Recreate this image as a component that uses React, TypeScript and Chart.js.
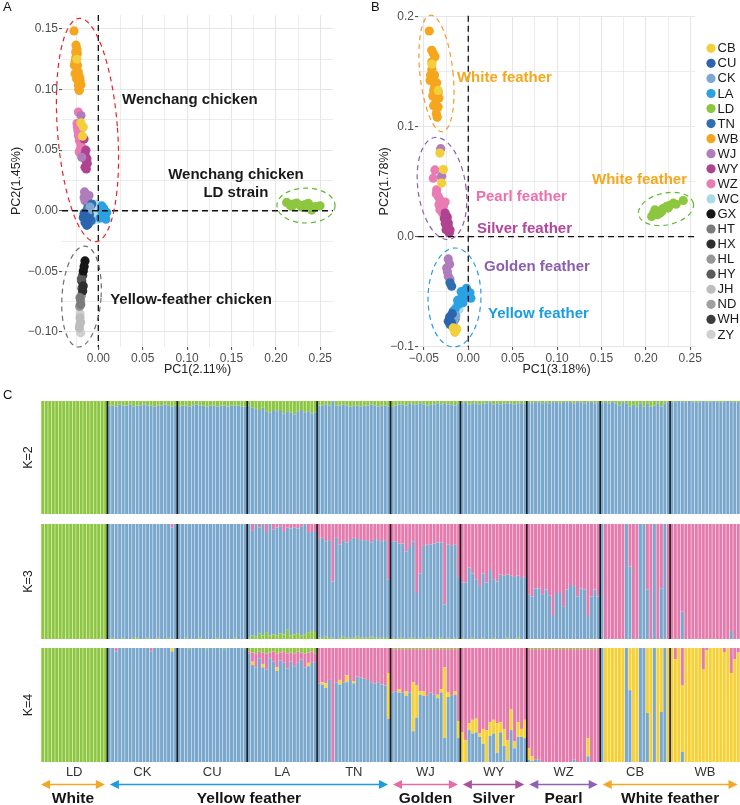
import React, { useEffect, useRef } from 'react';
import { Chart, registerables } from 'chart.js';
Chart.register(...registerables);

const FONT = "'Liberation Sans', Arial, Helvetica, sans-serif";

// ---------------- PCA groups (legend order) ----------------
const pcaGroups = ['CB','CU','CK','LA','LD','TN','WB','WJ','WY','WZ','WC','GX','HT','HX','HL','HY','JH','ND','WH','ZY'];
const pcaColors = ['#f3cf3b','#2c64ae','#7ea7d1','#2aa1e2','#8dc63f','#2f6fb0','#f5a61d','#b07cbc','#b0438f','#e97cb3','#a9dce6','#151515','#7a7a7a','#2e2e2e','#969696','#5a5a5a','#bdbdbd','#a0a0a0','#3d3d3d','#d0d0d0'];

// ---------------- Panel A points [PC1, PC2] ----------------
const pcaA_CB = [[-0.0169,0.069],[-0.0195,0.0725],[-0.0178,0.0615],[-0.0242,0.125]];
const pcaA_CU = [[-0.015,-0.0097],[-0.0169,-0.0055],[-0.013,-0.012],[-0.016,-0.002],[-0.011,-0.006]];
const pcaA_CK = [[-0.012,-0.001],[-0.0095,0.003],[-0.014,-0.004]];
const pcaA_LA = [[0.0075,-0.0041],[0.0038,0],[0.0094,-0.0014],[0.006,0.002],[0.002,-0.006],[0.0085,-0.007],[0.004,0.004]];
const pcaA_LD = [[0.2121,0.0069],[0.2196,0.0055],[0.2234,0.0063],[0.2328,0.005],[0.2403,0.0006],[0.2497,0.0041],[0.2159,0.0048],[0.2271,0.0045],[0.2365,0.0062],[0.244,0.0035],[0.229,0.003],[0.218,0.0035],[0.235,0.0025]];
const pcaA_TN = [[-0.0113,-0.011],[-0.0074,0.0055],[-0.01,-0.003],[-0.012,0.002],[-0.008,-0.008]];
const pcaA_WB = [[-0.0274,0.1484],[-0.0251,0.1366],[-0.0236,0.1297],[-0.0262,0.1228],[-0.0244,0.118],[-0.0225,0.1145],[-0.0206,0.1076],[-0.0225,0.1035],[-0.0214,0.0993],[-0.0255,0.126],[-0.027,0.12],[-0.023,0.112],[-0.0195,0.104],[-0.024,0.133],[-0.0262,0.113],[-0.022,0.1],[-0.0245,0.109],[-0.0255,0.131],[-0.021,0.11],[-0.0235,0.12]];
const pcaA_WJ = [[-0.0195,0.0786],[-0.0187,0.0441],[-0.0139,0.0138],[-0.015,0.0083],[-0.0124,0.0096],[-0.016,0.011],[-0.0105,0.0125],[-0.0155,0.0155],[-0.012,0.006]];
const pcaA_WY = [[-0.015,0.0469],[-0.0139,0.0414],[-0.015,0.0359],[-0.0124,0.039],[-0.0165,0.044],[-0.0135,0.0345],[-0.0161,0.0593],[-0.014,0.05],[-0.0128,0.043]];
const pcaA_WZ = [[-0.0225,0.0814],[-0.0236,0.069],[-0.0206,0.0655],[-0.0214,0.058],[-0.0187,0.0524],[-0.0225,0.062],[-0.0198,0.055],[-0.024,0.072],[-0.0215,0.0485],[-0.019,0.06],[-0.023,0.066],[-0.0205,0.0505]];
const pcaA_WC = [[-0.0074,-0.0027],[-0.0018,-0.0027],[-0.0024,0.0055],[-0.005,0.002],[-0.003,-0.007],[-0.008,0.003],[0,0.001],[-0.006,-0.008],[-0.01,0.0]];
const pcaA_GX = [[-0.015,-0.0414],[-0.0169,-0.0497],[-0.016,-0.046]];
const pcaA_HT = [[-0.0206,-0.0717],[-0.0198,-0.0773]];
const pcaA_HX = [[-0.0176,-0.0662],[-0.017,-0.062]];
const pcaA_HL = [[-0.02,-0.074],[-0.021,-0.079]];
const pcaA_HY = [[-0.0185,-0.064],[-0.019,-0.056]];
const pcaA_JH = [[-0.0206,-0.0883],[-0.0214,-0.0966],[-0.02,-0.092]];
const pcaA_ND = [[-0.019,-0.07]];
const pcaA_WH = [[-0.0187,-0.058],[-0.0176,-0.0535]];
const pcaA_ZY = [[-0.0198,-0.1007],[-0.021,-0.094],[-0.0205,-0.085]];
const pcaA = [pcaA_CB,pcaA_CU,pcaA_CK,pcaA_LA,pcaA_LD,pcaA_TN,pcaA_WB,pcaA_WJ,pcaA_WY,pcaA_WZ,pcaA_WC,pcaA_GX,pcaA_HT,pcaA_HX,pcaA_HL,pcaA_HY,pcaA_JH,pcaA_ND,pcaA_WH,pcaA_ZY];

// ---------------- Panel B points [PC1, PC2] ----------------
const pcaB_CB = [[-0.041,0.157],[-0.0338,0.133],[-0.032,0.076],[-0.028,0.061],[-0.03,0.0487],[-0.0169,-0.083],[-0.015,-0.087],[-0.013,-0.084]];
const pcaB_CU = [[-0.0225,-0.0768],[-0.021,-0.073],[-0.019,-0.078],[-0.018,-0.07]];
const pcaB_CK = [[-0.0169,-0.0798],[-0.014,-0.072],[-0.016,-0.076]];
const pcaB_LA = [[-0.0056,-0.0496],[0,-0.054],[-0.0093,-0.057],[-0.0113,-0.0617],[-0.015,-0.066],[0.0019,-0.051],[-0.004,-0.053],[-0.008,-0.05],[-0.012,-0.058],[-0.006,-0.06],[0.003,-0.056],[-0.002,-0.047]];
const pcaB_LD = [[0.2065,0.0184],[0.2159,0.0215],[0.2234,0.0275],[0.2309,0.0305],[0.2421,0.0329],[0.2103,0.0245],[0.219,0.0255],[0.213,0.02],[0.227,0.0285],[0.218,0.023],[0.225,0.026],[0.2085,0.021],[0.234,0.0295]];
const pcaB_TN = [[-0.0206,-0.042],[-0.0187,-0.045],[-0.0187,-0.072],[-0.0206,-0.0798],[-0.015,-0.075],[-0.017,-0.068]];
const pcaB_WB = [[-0.0439,0.187],[-0.0412,0.1695],[-0.0394,0.1665],[-0.0375,0.1635],[-0.041,0.159],[-0.0424,0.147],[-0.038,0.147],[-0.043,0.142],[-0.0356,0.14],[-0.039,0.133],[-0.0338,0.131],[-0.04,0.128],[-0.033,0.126],[-0.037,0.121],[-0.034,0.118],[-0.039,0.119],[-0.036,0.112],[-0.035,0.1085],[-0.038,0.136],[-0.041,0.152]];
const pcaB_WJ = [[-0.031,0.08],[-0.03,0.055],[-0.0225,-0.0202],[-0.0243,-0.0284],[-0.0225,-0.036],[-0.0206,-0.039],[-0.0235,-0.032],[-0.021,-0.025]];
const pcaB_WY = [[-0.026,0.0215],[-0.0243,0.0154],[-0.0225,0.0093],[-0.025,0.0063],[-0.0214,0.0033],[-0.0236,0.018],[-0.026,0.012],[-0.0205,0.006],[-0.027,0.0165],[-0.0225,0.0125]];
const pcaB_WZ = [[-0.0375,0.0607],[-0.0394,0.0532],[-0.0356,0.0426],[-0.0338,0.0365],[-0.0319,0.0335],[-0.03,0.0305],[-0.028,0.0275],[-0.0319,0.0245],[-0.026,0.0315],[-0.029,0.0215],[-0.036,0.039],[-0.033,0.029]];
const pcaB_WC = [[-0.013,-0.063],[-0.0105,-0.066]];
const pcaB = [pcaB_CB,pcaB_CU,pcaB_CK,pcaB_LA,pcaB_LD,pcaB_TN,pcaB_WB,pcaB_WJ,pcaB_WY,pcaB_WZ,pcaB_WC,[],[],[],[],[],[],[],[],[]];

// axis ticks
const aXTicks = [-0.025,0,0.025,0.05,0.075,0.1,0.125,0.15,0.175,0.2,0.225,0.25];
const aYTicks = [-0.1,-0.075,-0.05,-0.025,0,0.025,0.05,0.075,0.1,0.125,0.15];
const bXTicks = [-0.05,-0.025,0,0.025,0.05,0.075,0.1,0.125,0.15,0.175,0.2,0.225,0.25];
const bYTicks = [-0.1,-0.05,0,0.05,0.1,0.15,0.2];

// ---------------- Admixture ----------------
const admixGroups = ['LD','CK','CU','LA','TN','WJ','WY','WZ','CB','WB'];
const admixSizes = [19,20,20,20,21,20,19,21,20,20];
const featherLabels = ['White','Yellow feather','Golden','Silver','Pearl','White feather'];
const featherFrom = ['LD','CK','WJ','WY','WZ','CB'];
const featherTo = ['LD','TN','WJ','WY','WZ','WB'];
const featherColors = ['#f5a623','#1f9be1','#e76ba7','#a8529e','#8e63b4','#f5a623'];

// K=2 : green share (blue = rest)
const k2Green = [
  1,1,1,1,1,1,1,1,1,1,1,1,1,1,1,1,1,1,1,
  0.04,0.04,0.05,0.03,0.04,0.04,0.03,0.05,0.04,0.04,0.03,0.04,0.04,0.05,0.04,0.04,0.03,0.04,0.05,0.04,
  0.05,0.04,0.04,0.05,0.04,0.03,0.04,0.04,0.05,0.04,0.04,0.05,0.04,0.04,0.05,0.04,0.04,0.04,0.05,0.05,
  0.04,0.06,0.07,0.08,0.06,0.09,0.10,0.08,0.09,0.08,0.11,0.09,0.10,0.12,0.09,0.08,0.10,0.09,0.11,0.10,
  0.04,0.04,0.03,0.04,0.00,0.04,0.04,0.03,0.04,0.05,0.04,0.04,0.05,0.04,0.04,0.03,0.04,0.05,0.04,0.04,0.05,
  0.05,0.04,0.03,0.03,0.04,0.02,0.03,0.03,0.02,0.03,0.04,0.03,0.03,0.02,0.03,0.02,0.03,0.03,0.04,0.02,
  0.02,0.01,0.03,0.02,0.02,0.03,0.02,0.02,0.01,0.03,0.02,0.03,0.02,0.02,0.02,0.03,0.02,0.02,0.02,
  0.01,0.02,0.01,0.01,0.02,0.01,0.02,0.01,0.01,0.02,0.01,0.01,0.01,0.02,0.01,0.01,0.02,0.01,0.01,0.02,0.01,
  0.02,0.01,0.02,0.01,0.02,0.04,0.01,0.02,0.05,0.03,0.05,0.02,0.05,0.02,0.05,0.04,0.02,0.05,0.02,0.01,
  0.01,0.01,0.00,0.01,0.01,0.00,0.01,0.01,0.01,0.00,0.01,0.01,0.00,0.01,0.01,0.01,0.00,0.01,0.01,0.01,
];
// K=3 : green (bottom), pink (top); blue = rest
const k3Green = [
  1,1,1,1,1,1,1,1,1,1,1,1,1,1,1,1,1,1,1,
  0,0.01,0,0,0.01,0,0,0.01,0.01,0,0,0.01,0,0,0.01,0,0,0.01,0,0,
  0,0,0.01,0,0,0,0.01,0,0,0,0,0.01,0,0,0,0,0.01,0,0,0,
  0.01,0.03,0.02,0.05,0.03,0.06,0.03,0.04,0.03,0.05,0.04,0.08,0.03,0.04,0.05,0.03,0.04,0.06,0.07,0.06,
  0.01,0.01,0.02,0.01,0.01,0,0.01,0.02,0.01,0.01,0.01,0.02,0.01,0.01,0.01,0.02,0.01,0.01,0.01,0.01,0.01,
  0.01,0,0.01,0.01,0,0.01,0.01,0,0.01,0,0.01,0.01,0,0.01,0.01,0,0.01,0,0.01,0,
  0.01,0,0,0.01,0,0,0.01,0,0,0.01,0,0,0,0.01,0,0,0.01,0,0,
  0,0,0,0,0,0,0,0,0,0,0,0,0,0,0,0,0,0,0,0,0,
  0,0,0,0,0,0,0,0,0,0,0,0,0,0,0,0,0,0,0,0,
  0,0,0,0,0,0,0,0,0,0,0,0,0,0,0,0,0,0,0,0,
];
const k3Pink = [
  0,0,0,0,0,0,0,0,0,0,0,0,0,0,0,0,0,0,0,
  0,0,0,0,0,0,0,0,0,0,0,0,0,0,0,0,0,0,0.03,0,
  0,0,0,0,0,0,0,0,0,0,0,0,0,0,0,0,0,0,0,0,
  0,0.06,0,0.03,0,0.07,0,0.05,0.03,0.02,0.07,0.03,0.04,0.03,0.04,0.02,0,0.07,0.07,0.06,
  0.13,0.12,0.15,0.14,0.50,0.12,0.18,0.14,0.16,0.14,0.12,0.13,0.14,0.14,0.14,0.16,0.13,0.14,0.15,0.14,0.48,
  0.15,0.15,0.17,0.17,0.24,0.20,0.15,0.60,0.43,0.19,0.18,0.18,0.17,0.16,0.16,0.70,0.18,0.19,0.18,0.46,
  0.51,0.51,0.38,0.43,0.48,0.54,0.43,0.51,0.40,0.48,0.50,0.44,0.45,0.44,0.45,0.46,0.45,0.47,0.46,
  0.61,0.63,0.56,0.56,0.61,0.57,0.62,0.80,0.60,0.60,0.72,0.57,0.53,0.54,0.63,0.56,0.57,0.80,0.63,0.57,0.63,
  0,1,1,1,1,1,1,0,0.37,1,1,0,0,0.57,1,0,1,0.56,0,1,
  1,1,1,0.76,1,1,1,1,1,1,1,1,1,1,1,1,1,0.93,1,1,
];
// K=4 : blue (bottom, rest), yellow, pink, green (top)
const k4Green = [
  1,1,1,1,1,1,1,1,1,1,1,1,1,1,1,1,1,1,1,
  0,0,0,0,0,0,0,0,0,0,0,0,0,0,0,0,0,0,0,0,
  0,0,0,0.01,0,0,0,0,0.01,0,0,0,0,0.01,0,0,0,0,0,0.01,
  0.03,0.04,0.05,0.03,0.04,0.05,0.04,0.03,0.05,0.04,0.03,0.05,0.04,0.05,0.03,0.04,0.05,0.04,0.03,0.05,
  0,0,0,0,0,0,0,0,0,0,0,0,0,0,0,0,0,0,0,0,0,
  0.01,0.01,0.01,0.01,0.01,0.01,0.01,0.01,0.01,0.01,0.01,0.01,0.01,0.01,0.01,0.01,0.01,0.01,0.01,0.01,
  0,0,0,0,0,0,0,0,0,0,0,0,0,0,0,0,0,0,0,
  0.01,0.01,0.01,0.01,0.01,0.01,0.01,0.01,0.01,0.01,0.01,0.01,0.01,0.01,0.01,0.01,0.01,0.01,0.01,0.01,0.01,
  0,0,0,0,0,0,0,0,0,0,0,0,0,0,0,0,0,0,0,0,
  0,0,0,0,0,0,0,0,0,0,0,0,0,0,0,0,0,0,0,0,
];
const k4Pink = [
  0,0,0,0,0,0,0,0,0,0,0,0,0,0,0,0,0,0,0,
  0,0,0.03,0,0,0,0,0,0,0,0,0,0.03,0,0,0,0,0,0,0,
  0,0,0,0,0,0,0,0,0,0,0,0,0,0,0,0,0,0,0,0,
  0.02,0.08,0.12,0.06,0.10,0.14,0.05,0.09,0.12,0.07,0.10,0.13,0.08,0.11,0.10,0.06,0.12,0.09,0.10,0.08,
  0.31,0.30,0.31,0.28,1.00,0.30,0.28,0.30,0.24,0.28,0.29,0.25,0.26,0.27,0.28,0.30,0.31,0.30,0.32,0.33,0.22,
  0.38,0.37,0.35,0.38,0.37,0.38,0.29,0.32,0.37,0.37,0.41,0.38,0.40,0.40,0.35,0.16,0.38,0.41,0.37,0.63,
  0.74,0.81,0.66,0.63,0.62,0.75,0.71,0.72,0.65,0.63,0.66,0.65,0.71,0.81,0.54,0.82,0.65,0.71,0.63,
  0.87,0.94,0.97,0.97,0.99,0.99,0.99,0.99,0.99,0.99,0.99,0.99,0.99,0.97,0.99,0.99,0.99,0.78,0.99,0.99,0.99,
  0,0,0,0,0,0,0,0,0,0,0,0,0,0,0,0,0,0,0,0,
  0,0.10,0,0.33,0,0,0,0,0,0.19,0.02,0,0,0,0,0.04,0,0.22,0.10,0.04,
];
const k4Yellow = [
  0,0,0,0,0,0,0,0,0,0,0,0,0,0,0,0,0,0,0,
  0,0,0,0,0,0,0,0,0,0,0,0,0,0,0,0,0,0,0.03,0,
  0,0,0,0,0,0,0,0,0,0,0,0,0,0,0,0,0,0,0,0,
  0,0.03,0,0,0.03,0,0,0,0.03,0,0,0,0,0,0,0,0,0.03,0,0,
  0,0.02,0.04,0,0,0,0.04,0,0.06,0,0.02,0,0,0,0,0,0,0,0,0,0.40,
  0,0,0.03,0,0.04,0,0.43,0.28,0.03,0.04,0,0,0,0.03,0.03,0.62,0.04,0,0.03,0.15,
  0.26,0.19,0.06,0.12,0.12,0.03,0.13,0.28,0.12,0.12,0.26,0.09,0.15,0.18,0.18,0.06,0.13,0.07,0.16,
  0.10,0.04,0,0,0,0,0,0,0,0,0,0,0,0,0,0,0,0.16,0,0,0,
  0,1,1,1,1,1,1,0,0.37,1,1,0,0,0.57,1,0,1,0.56,0,1,
  1,0.90,1,0.58,1,1,1,1,1,0.81,0.98,1,1,1,1,0.96,1,0.78,0.90,0.96,
];

const GREEN = '#8dc641', BLUE = '#7aa7cc', PINK = '#e57bac', YELLOW = '#f6d136';

const individuals = admixGroups.flatMap((g, gi) => Array.from({ length: admixSizes[gi] }, (_, j) => `${g}${j + 1}`));
const groupStart = admixSizes.map((_, gi) => admixSizes.slice(0, gi).reduce((a, b) => a + b, 0));
const rest = (...parts: number[][]) => individuals.map((_, i) => Math.max(0, +(1 - parts.reduce((s, p) => s + (p[i] || 0), 0)).toFixed(3)));

// ---------------- annotations ----------------
const ellipsesA = [
  { cx: -0.0122, cy: 0.0666, rx: 0.0338, ry: 0.0924, rot: -4.3, color: '#e3262b' },
  { cx: 0.2339, cy: 0.0043, rx: 0.0327, ry: 0.0144, rot: 0, color: '#5fb830' },
  { cx: -0.0189, cy: -0.0708, rx: 0.022, ry: 0.0417, rot: 4, color: '#6e6e6e' },
];
const textsA = [
  { text: 'Wenchang chicken', x: 0.0268, y: 0.0913, align: 'left', color: '#1a1a1a' },
  { text: 'Wenchang chicken', x: 0.155, y: 0.0295, align: 'center', color: '#1a1a1a' },
  { text: 'LD strain', x: 0.155, y: 0.0146, align: 'center', color: '#1a1a1a' },
  { text: 'Yellow-feather chicken', x: 0.0133, y: -0.0737, align: 'left', color: '#1a1a1a' },
];
const ellipsesB = [
  { cx: -0.0358, cy: 0.1484, rx: 0.0186, ry: 0.0532, rot: -6, color: '#f39a2e' },
  { cx: -0.0296, cy: 0.0438, rx: 0.027, ry: 0.0468, rot: -8, color: '#8d5db0' },
  { cx: -0.0155, cy: -0.0553, rx: 0.0298, ry: 0.045, rot: 1, color: '#2a9ce2' },
  { cx: 0.2226, cy: 0.0252, rx: 0.0315, ry: 0.0145, rot: -12, color: '#5fb830' },
];
const textsB = [
  { text: 'White feather', x: -0.0128, y: 0.1443, align: 'left', color: '#f5a81c' },
  { text: 'Pearl feather', x: 0.0087, y: 0.0361, align: 'left', color: '#ec6fae' },
  { text: 'Silver feather', x: 0.0098, y: 0.007, align: 'left', color: '#b2479b' },
  { text: 'Golden feather', x: 0.0177, y: -0.0275, align: 'left', color: '#8c5fae' },
  { text: 'Yellow feather', x: 0.0222, y: -0.0703, align: 'left', color: '#1b9de2' },
  { text: 'White feather', x: 0.1393, y: 0.0515, align: 'left', color: '#f5a81c' },
];

const isMajor = (v: number, step: number) => Math.abs(v / step - Math.round(v / step)) < 1e-6;
const fmt = (v: number, dec: number) => (v < -1e-9 ? '\u2212' : '') + Math.abs(v).toFixed(dec);

function scatterPlugin(spec: any) {
  return {
    id: 'pcaAnnot',
    afterDatasetsDraw(chart: any) {
      const { ctx, chartArea: a, scales: { x, y } } = chart;
      ctx.save();
      ctx.setLineDash([6, 4]);
      ctx.strokeStyle = '#111';
      ctx.lineWidth = 1.3;
      const x0 = x.getPixelForValue(0), y0 = y.getPixelForValue(0);
      ctx.beginPath(); ctx.moveTo(x0, a.top); ctx.lineTo(x0, a.bottom); ctx.stroke();
      ctx.beginPath(); ctx.moveTo(a.left, y0); ctx.lineTo(a.right, y0); ctx.stroke();
      ctx.setLineDash([5, 4]);
      ctx.lineWidth = 1.2;
      spec.ellipses.forEach((e: any) => {
        const px = x.getPixelForValue(e.cx), py = y.getPixelForValue(e.cy);
        const rxp = Math.abs(x.getPixelForValue(e.cx + e.rx) - px);
        const ryp = Math.abs(y.getPixelForValue(e.cy + e.ry) - py);
        ctx.strokeStyle = e.color;
        ctx.beginPath();
        ctx.ellipse(px, py, rxp, ryp, (e.rot * Math.PI) / 180, 0, Math.PI * 2);
        ctx.stroke();
      });
      ctx.setLineDash([]);
      ctx.font = `bold 15px ${FONT}`;
      ctx.textBaseline = 'middle';
      spec.texts.forEach((t: any) => {
        ctx.fillStyle = t.color;
        ctx.textAlign = t.align;
        ctx.fillText(t.text, x.getPixelForValue(t.x), y.getPixelForValue(t.y));
      });
      if (spec.legend) {
        ctx.font = `13px ${FONT}`;
        ctx.textAlign = 'left';
        pcaGroups.forEach((g, i) => {
          const cy = 48.3 + i * 15.06;
          ctx.fillStyle = pcaColors[i];
          ctx.beginPath(); ctx.arc(a.right + 16, cy, 4.6, 0, Math.PI * 2); ctx.fill();
          ctx.fillStyle = '#1a1a1a';
          ctx.fillText(g, a.right + 22.5, cy + 0.5);
        });
      }
      ctx.restore();
    },
  };
}

function scatterConfig(spec: any): any {
  const datasets = pcaGroups.map((g, i) => ({
    label: g,
    data: spec.data[i].map(([px, py]: number[]) => ({ x: px, y: py })),
    backgroundColor: pcaColors[i],
    borderWidth: 0,
    pointRadius: 4.6,
    pointHoverRadius: 4.6,
  }));
  const axis = (isX: boolean) => {
    const min = isX ? spec.xMin : spec.yMin;
    const max = isX ? spec.xMax : spec.yMax;
    const ticks = isX ? spec.xTicks : spec.yTicks;
    const major = isX ? spec.xMajor : spec.yMajor;
    const dec = isX ? spec.xDec : spec.yDec;
    return {
      type: 'linear',
      position: isX ? 'bottom' : 'left',
      min, max,
      afterBuildTicks: (s: any) => { s.ticks = ticks.map((v: number) => ({ value: v })); },
      afterFit: (s: any) => { if (isX) s.height = 33; else s.width = spec.yAxisWidth; },
      border: { display: false },
      grid: {
        color: '#e6e6e6',
        lineWidth: (c: any) => (c.tick && isMajor(c.tick.value, major) ? 1.1 : 0.75),
        tickColor: (c: any) => (c.tick && isMajor(c.tick.value, major) ? '#555' : 'rgba(0,0,0,0)'),
        tickLength: 3,
        drawTicks: true,
      },
      ticks: {
        callback: (v: number) => (isMajor(v, major) ? fmt(v, dec) : ''),
        font: { family: FONT, size: 12 },
        color: '#4d4d4d',
        padding: 1,
        maxRotation: 0,
        autoSkip: false,
      },
      title: {
        display: true,
        text: isX ? spec.xTitle : spec.yTitle,
        font: { family: FONT, size: 12.5 },
        color: '#222',
        padding: isX ? { top: 0, bottom: 2.5 } : { top: spec.yTitlePad, bottom: 0 },
      },
    };
  };
  return {
    type: 'scatter',
    data: { datasets },
    options: {
      animation: false,
      responsive: false,
      maintainAspectRatio: false,
      layout: { padding: { left: 0, top: spec.padTop, right: spec.padRight, bottom: 0 } },
      plugins: { legend: { display: false }, tooltip: { enabled: false } },
      scales: { x: axis(true), y: axis(false) },
    },
    plugins: [scatterPlugin(spec)],
  };
}

function drawArrow(ctx: any, x1: number, x2: number, y: number, color: string) {
  const h = 9, w = 4.5;
  ctx.strokeStyle = color;
  ctx.fillStyle = color;
  ctx.lineWidth = 1.6;
  ctx.beginPath(); ctx.moveTo(x1 + h - 1, y); ctx.lineTo(x2 - h + 1, y); ctx.stroke();
  ctx.beginPath(); ctx.moveTo(x1, y); ctx.lineTo(x1 + h, y - w); ctx.lineTo(x1 + h, y + w); ctx.closePath(); ctx.fill();
  ctx.beginPath(); ctx.moveTo(x2, y); ctx.lineTo(x2 - h, y - w); ctx.lineTo(x2 - h, y + w); ctx.closePath(); ctx.fill();
}

function admixPlugin(kLabel: string, footer: boolean) {
  return {
    id: 'admix',
    afterDatasetsDraw(chart: any) {
      const { ctx, chartArea: a, scales: { x } } = chart;
      const band = x.getPixelForValue(1) - x.getPixelForValue(0);
      const leftEdge = (gi: number) => x.getPixelForValue(groupStart[gi]) - band / 2;
      const rightEdge = (gi: number) => x.getPixelForValue(groupStart[gi] + admixSizes[gi] - 1) + band / 2;
      ctx.save();
      ctx.strokeStyle = '#1b1b1b';
      ctx.lineWidth = 1.6;
      groupStart.forEach((s, gi) => {
        if (gi === 0) return;
        const px = leftEdge(gi);
        ctx.beginPath(); ctx.moveTo(px, a.top); ctx.lineTo(px, a.bottom); ctx.stroke();
      });
      ctx.save();
      ctx.fillStyle = '#222';
      ctx.font = `12.5px ${FONT}`;
      ctx.textAlign = 'center';
      ctx.textBaseline = 'middle';
      ctx.translate(28.5, (a.top + a.bottom) / 2);
      ctx.rotate(-Math.PI / 2);
      ctx.fillText(kLabel, 0, 0);
      ctx.restore();
      if (footer) {
        ctx.fillStyle = '#333';
        ctx.font = `13px ${FONT}`;
        ctx.textAlign = 'center';
        ctx.textBaseline = 'middle';
        admixGroups.forEach((g, gi) => {
          ctx.fillText(g, (leftEdge(gi) + rightEdge(gi)) / 2, a.bottom + 10.5);
        });
        featherLabels.forEach((lab, fi) => {
          const g1 = admixGroups.indexOf(featherFrom[fi]);
          const g2 = admixGroups.indexOf(featherTo[fi]);
          const xs = leftEdge(g1) + (g1 === 0 ? 0 : 2.5);
          const xe = Math.min(rightEdge(g2) - 2.5, a.right - 1.5);
          drawArrow(ctx, xs, xe, a.bottom + 22.5, featherColors[fi]);
          ctx.fillStyle = '#141414';
          ctx.font = `bold 15.5px ${FONT}`;
          ctx.fillText(lab, (xs + xe) / 2, a.bottom + 37);
        });
      }
      ctx.restore();
    },
  };
}

function admixConfig(series: { data: number[]; color: string }[], kLabel: string, footer: boolean): any {
  return {
    type: 'bar',
    data: {
      labels: individuals,
      datasets: series.map((s, i) => ({
        label: 'c' + i,
        data: s.data,
        backgroundColor: s.color,
        borderWidth: 0,
        barPercentage: 0.86,
        categoryPercentage: 1,
      })),
    },
    options: {
      animation: false,
      responsive: false,
      maintainAspectRatio: false,
      layout: { padding: { left: 41, right: 0, top: 0, bottom: footer ? 43 : 0 } },
      plugins: { legend: { display: false }, tooltip: { enabled: false } },
      scales: {
        x: { stacked: true, display: false },
        y: { stacked: true, display: false, min: 0, max: 1 },
      },
    },
    plugins: [admixPlugin(kLabel, footer)],
  };
}

const specA = {
  data: pcaA, xMin: -0.0409, xMax: 0.2643, yMin: -0.1124, yMax: 0.1615,
  xTicks: aXTicks, yTicks: aYTicks, xMajor: 0.05, yMajor: 0.05, xDec: 2, yDec: 2,
  xTitle: 'PC1(2.11%)', yTitle: 'PC2(1.45%)', yAxisWidth: 62, padTop: 15, padRight: 37, yTitlePad: 9.5,
  ellipses: ellipsesA, texts: textsA, legend: false,
};
const specB = {
  data: pcaB, xMin: -0.0566, xMax: 0.2553, yMin: -0.1003, yMax: 0.2009,
  xTicks: bXTicks, yTicks: bYTicks, xMajor: 0.05, yMajor: 0.1, xDec: 2, yDec: 1,
  xTitle: 'PC1(3.18%)', yTitle: 'PC2(1.78%)', yAxisWidth: 48, padTop: 15.7, padRight: 45, yTitlePad: 7.5,
  ellipses: ellipsesB, texts: textsB, legend: true,
};

export default function App() {
  const aRef = useRef<HTMLCanvasElement>(null);
  const bRef = useRef<HTMLCanvasElement>(null);
  const k2Ref = useRef<HTMLCanvasElement>(null);
  const k3Ref = useRef<HTMLCanvasElement>(null);
  const k4Ref = useRef<HTMLCanvasElement>(null);

  useEffect(() => {
    document.body.style.margin = '0';
    const charts = [
      new Chart(aRef.current as HTMLCanvasElement, scatterConfig(specA)),
      new Chart(bRef.current as HTMLCanvasElement, scatterConfig(specB)),
      new Chart(k2Ref.current as HTMLCanvasElement, admixConfig([
        { data: rest(k2Green), color: BLUE },
        { data: k2Green, color: GREEN },
      ], 'K=2', false)),
      new Chart(k3Ref.current as HTMLCanvasElement, admixConfig([
        { data: k3Green, color: GREEN },
        { data: rest(k3Green, k3Pink), color: BLUE },
        { data: k3Pink, color: PINK },
      ], 'K=3', false)),
      new Chart(k4Ref.current as HTMLCanvasElement, admixConfig([
        { data: rest(k4Green, k4Pink, k4Yellow), color: BLUE },
        { data: k4Yellow, color: YELLOW },
        { data: k4Pink, color: PINK },
        { data: k4Green, color: GREEN },
      ], 'K=4', true)),
    ];
    return () => charts.forEach((c) => c.destroy());
  }, []);

  const letter = (t: string, left: number, top: number) => (
    <div style={{ position: 'absolute', left, top, fontSize: 13, lineHeight: '13px', color: '#111', fontFamily: FONT }}>{t}</div>
  );

  return (
    <div style={{ position: 'relative', width: 740, height: 805, background: '#fff', overflow: 'hidden' }}>
      <canvas ref={aRef} width={370} height={380} style={{ position: 'absolute', left: 0, top: 0 }} />
      <canvas ref={bRef} width={370} height={380} style={{ position: 'absolute', left: 370, top: 0 }} />
      <canvas ref={k2Ref} width={740} height={113} style={{ position: 'absolute', left: 0, top: 401 }} />
      <canvas ref={k3Ref} width={740} height={115} style={{ position: 'absolute', left: 0, top: 524 }} />
      <canvas ref={k4Ref} width={740} height={157} style={{ position: 'absolute', left: 0, top: 648 }} />
      {letter('A', 3, 0)}
      {letter('B', 371, 0)}
      {letter('C', 3, 388)}
    </div>
  );
}
